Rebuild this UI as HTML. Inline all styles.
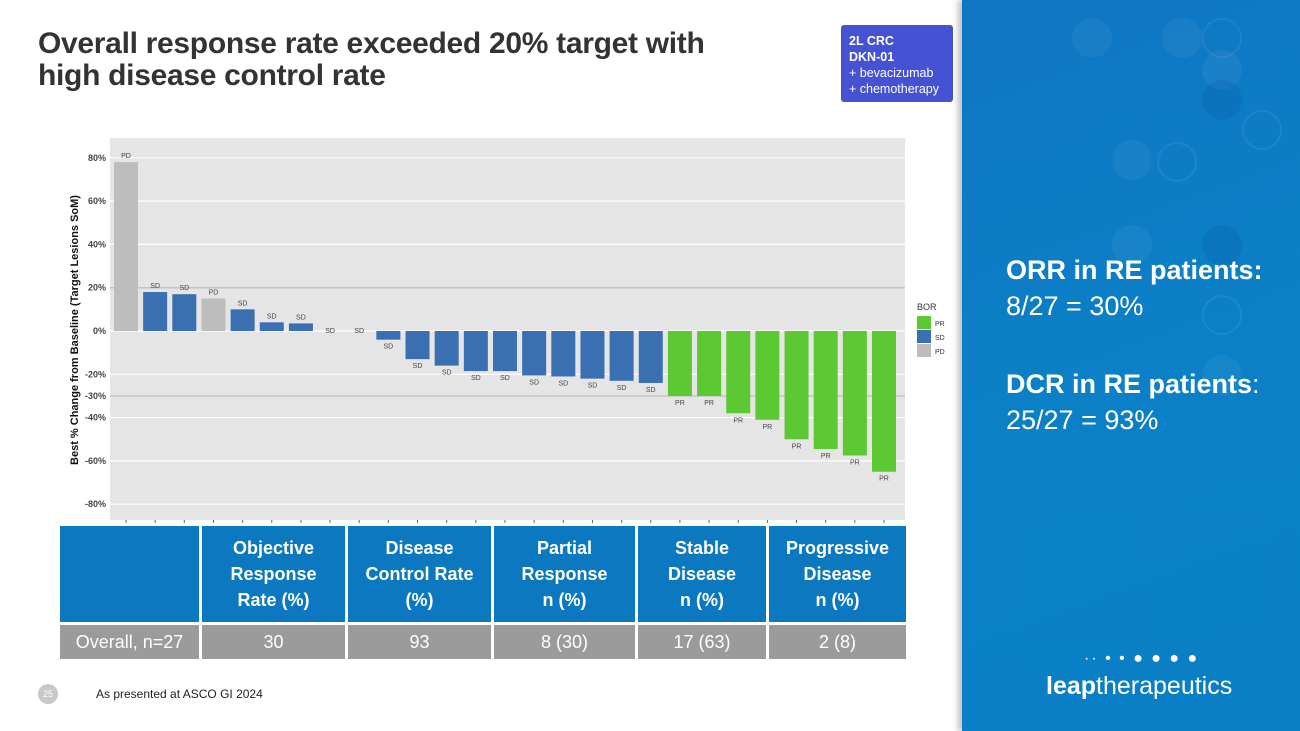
<!DOCTYPE html>
<html><head><meta charset="utf-8">
<style>
body{margin:0;width:1300px;height:731px;overflow:hidden;background:#fff;font-family:"Liberation Sans",sans-serif;position:relative}
.title{position:absolute;left:38px;top:28px;font-size:30px;font-weight:bold;color:#333;line-height:32px;font-family:"Liberation Sans",sans-serif;letter-spacing:-0.3px}
.tag{position:absolute;left:841px;top:25px;width:112px;height:77px;background:#4452d3;border-radius:3px;color:#fff;font-size:12.5px;line-height:16px;padding:8px 0 0 8px;box-sizing:border-box}
.right{position:absolute;left:962px;top:0;width:338px;height:731px;background:linear-gradient(160deg,#0f76c4,#0b80c6 50%,#0a7fc5);box-shadow:-4px 0 6px rgba(0,0,0,0.25)}
.circ{position:absolute;border-radius:50%;background:rgba(255,255,255,0.05)}
.ring{position:absolute;border-radius:50%;border:2px solid rgba(255,255,255,0.07)}
.stat{position:absolute;left:44px;color:#fff;font-size:27px;line-height:36px}
table{position:absolute;left:57px;top:523px;border-collapse:collapse;font-size:18px}
td{border:3px solid #fff;text-align:center;color:#fff}
.h td{background:#0b78c0;font-weight:bold;height:94px;line-height:26px}
.g td{background:#9b9b9b;height:32px;font-size:18px}
</style></head><body>
<div class="title">Overall response rate exceeded 20% target with<br>high disease control rate</div>
<div class="tag"><b>2L CRC</b><br><b>DKN-01</b><br>+ bevacizumab<br>+ chemotherapy</div>
<div class="right">
<div class="circ" style="left:110px;top:18px;width:40px;height:40px"></div>
<div class="circ" style="left:200px;top:18px;width:40px;height:40px"></div>
<div class="ring" style="left:240px;top:18px;width:36px;height:36px"></div>
<div class="circ" style="left:240px;top:50px;width:40px;height:40px"></div>
<div class="circ" style="left:240px;top:80px;width:40px;height:40px;background:rgba(0,40,140,0.1)"></div>
<div class="circ" style="left:150px;top:140px;width:40px;height:40px"></div>
<div class="ring" style="left:280px;top:110px;width:36px;height:36px"></div>
<div class="circ" style="left:150px;top:225px;width:40px;height:40px"></div>
<div class="circ" style="left:240px;top:225px;width:40px;height:40px;background:rgba(0,40,140,0.1)"></div>
<div class="ring" style="left:195px;top:142px;width:36px;height:36px"></div>
<div class="circ" style="left:240px;top:355px;width:40px;height:40px"></div>
<div class="ring" style="left:240px;top:295px;width:36px;height:36px"></div>
<div class="stat" style="top:252px"><b>ORR in RE patients:</b><br>8/27 = 30%</div>
<div class="stat" style="top:366px"><b>DCR in RE patients</b>:<br>25/27 = 93%</div>
<div style="position:absolute;left:84px;top:672px;color:#fff;font-size:25px"><b>leap</b>therapeutics</div>
<div style="position:absolute;left:122px;top:650px;color:#fff;font-size:16px;letter-spacing:2px">·· • • ● ● ● ●</div>
</div>
<svg id="chart" style="position:absolute;left:0;top:0" width="960" height="525"></svg>
<table>
<tr class="h"><td style="width:137px"></td><td style="width:141px">Objective<br>Response<br>Rate (%)</td><td style="width:141px">Disease<br>Control Rate<br>(%)</td><td style="width:139px">Partial<br>Response<br>n (%)</td><td style="width:126px">Stable<br>Disease<br>n (%)</td><td style="width:135px">Progressive<br>Disease<br>n (%)</td></tr>
<tr class="g"><td>Overall, n=27</td><td>30</td><td>93</td><td>8 (30)</td><td>17 (63)</td><td>2 (8)</td></tr>
</table>
<div style="position:absolute;left:38px;top:684px;width:20px;height:20px;border-radius:50%;background:#c8c8c8;color:#fff;font-size:9px;text-align:center;line-height:20px">25</div>
<div style="position:absolute;left:96px;top:687px;font-size:12px;color:#222">As presented at ASCO GI 2024</div>
<script>
const values=[78,18,17,15,10,4,3.5,0,0,-4,-13,-16,-18.5,-18.5,-20.5,-21,-22,-23,-24,-30,-30,-38,-41,-50,-54.5,-57.5,-65];
const responses=["PD","SD","SD","PD","SD","SD","SD","SD","SD","SD","SD","SD","SD","SD","SD","SD","SD","SD","SD","PR","PR","PR","PR","PR","PR","PR","PR"];
const yTicks=[80,60,40,20,0,-20,-30,-40,-60,-80];
const colors={PR:"#5cc933",SD:"#3a6fb1",PD:"#bdbdbd"};
const NS="http://www.w3.org/2000/svg";
const svg=document.getElementById('chart');
const px0=110,px1=905,py0=138,py1=520;
const y=v=>331-v*2.165;
const step=(884-126)/(values.length-1);
const x=i=>126+i*step;
function mk(t,a){const e=document.createElementNS(NS,t);for(const k in a)e.setAttribute(k,a[k]);svg.appendChild(e);return e;}
const bg=mk('rect',{x:px0,y:py0,width:px1-px0,height:py1-py0,fill:'#e5e5e5'});


yTicks.forEach(t=>{
  const thick=(t===20||t===-30);
  mk('line',{x1:px0,x2:px1,y1:y(t),y2:y(t),stroke:thick?'#c4c4c4':'#fff',"stroke-width":thick?1.5:1.2});
  const l=mk('text',{x:px0-4,y:y(t)+3,"text-anchor":"end","font-size":9,"font-weight":"bold",fill:'#444'});
  l.textContent=t+'%';
  
  
});
values.forEach((v,i)=>{
  const r=mk('rect',{x:x(i)-12,y:Math.min(y(v),y(0)),width:24,height:Math.abs(y(v)-y(0)),fill:colors[responses[i]]});
  
  
  const ly=v>0?y(v)-4:(v===0?y(0)+2:y(v)+9);
  const l=mk('text',{x:x(i),y:ly,"text-anchor":"middle","font-size":7,fill:'#444'});
  l.textContent=responses[i];
  
  
  mk('line',{x1:x(i),x2:x(i),y1:py1,y2:py1+3,stroke:'#666'});
});
const yt=mk('text',{x:0,y:0,transform:`translate(78,330) rotate(-90)`,"text-anchor":"middle","font-size":11,"font-weight":"bold",fill:'#111'});
yt.textContent='Best % Change from Baseline (Target Lesions SoM)';


const lt=mk('text',{x:917,y:310,"font-size":9,fill:'#333'});lt.textContent='BOR';


["PR","SD","PD"].forEach((k,i)=>{
  const r=mk('rect',{x:917,y:316+i*14,width:14,height:13,fill:colors[k]});
  
  
  const t=mk('text',{x:935,y:326+i*14,"font-size":7,fill:'#333'});t.textContent=k;
});
</script>
</body></html>
